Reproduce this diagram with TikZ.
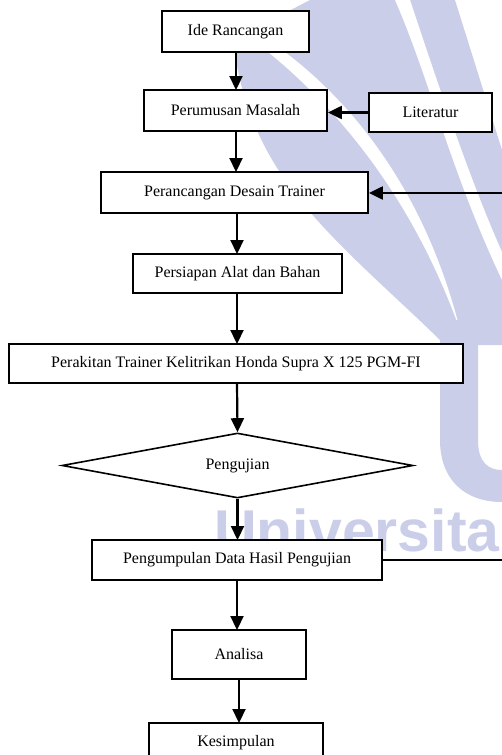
\documentclass[tikz,border=0pt]{standalone}
\usepackage{fontspec}
\setmainfont{Liberation Serif}
\newfontfamily\wmfont{Liberation Sans}
\usetikzlibrary{arrows.meta,shapes.geometric}
\definecolor{wm}{RGB}{203,206,233}
\begin{document}
\begin{tikzpicture}[x=1pt,y=-1pt,
  box/.style={draw=black,line width=1.8pt,fill=white,inner sep=0pt,font=\fontsize{16}{19}\selectfont},
  decision/.style={draw=black,line width=1.6pt,fill=white,diamond,aspect=5.4,inner sep=0pt,font=\fontsize{16}{19}\selectfont},
  arr/.style={line width=2.2pt,-{Triangle[width=13pt,length=14pt]}},
  plain/.style={line width=1.6pt},
  wmtext/.style={text=wm,inner sep=0pt,font=\wmfont\bfseries\fontsize{59}{60}\selectfont}]
\useasboundingbox (0,0) rectangle (502,755);
\begin{scope}
\clip (0,0) rectangle (502,755);
% watermark (background logo)
\fill[wm] (233,40) -- (310,0) -- (455,0) -- (502,150) -- (502,345) -- (445,345) .. controls (400,300) and (340,250) .. (300,200) .. controls (260,150) and (240,100) .. (233,40) -- cycle;
\fill[white] (262,36) .. controls (330,80) and (420,170) .. (460,330) .. controls (410,190) and (330,100) .. (258,44) -- cycle;
\fill[white] (395,0) .. controls (430,80) and (450,170) .. (502,280) -- (502,252) .. controls (470,180) and (440,90) .. (410,0) -- cycle;
\fill[wm] (440,320) -- (478,320) -- (478,440) .. controls (478,462) and (488,470) .. (502,470) -- (502,502) .. controls (465,502) and (440,480) .. (440,440) -- cycle;
\node[wmtext,anchor=base west] (wmt) at (214,551) {Universita};
% flowchart
\node[box,minimum width=147pt,minimum height=41pt] (ide) at (235.5,31.5) {Ide Rancangan};
\node[box,minimum width=183pt,minimum height=41pt] (rum) at (235.5,110.5) {Perumusan Masalah};
\node[box,minimum width=123pt,minimum height=39pt] (lit) at (430.5,112.5) {Literatur};
\node[box,minimum width=267pt,minimum height=41pt] (ran) at (234.5,192.5) {Perancangan Desain Trainer};
\node[box,minimum width=209pt,minimum height=39pt] (sia) at (237.5,273.5) {Persiapan Alat dan Bahan};
\node[box,minimum width=454pt,minimum height=39pt] (rak) at (236,363.5) {Perakitan Trainer Kelitrikan Honda Supra X 125 PGM-FI};
\node[decision,minimum width=351pt,minimum height=65pt] (uji) at (237.5,465.5) {Pengujian};
\node[box,minimum width=290pt,minimum height=40pt] (kum) at (237,560) {Pengumpulan Data Hasil Pengujian};
\node[box,minimum width=134pt,minimum height=49pt] (ana) at (239,654.5) {Analisa};
\node[box,minimum width=174pt,minimum height=40pt] (kes) at (236,743) {Kesimpulan};
\coordinate (e1) at (503,193);
\coordinate (e2) at (503,560);
\draw[arr] (236,52) -- (236,90);
\draw[arr] (lit.west) -- (rum.east |- lit.west);
\draw[arr] (236,131) -- (236,172);
\draw[arr] (e1) -- (ran.east |- e1);
\draw[arr] (237,213) -- (237,254);
\draw[arr] (237,293) -- (237,344);
\draw[arr] (237,383) -- (uji.north);
\draw[arr] (uji.south) -- (237.5,540);
\draw[plain] (kum.east) -- (e2);
\draw[arr] (237,580) -- (237,630);
\draw[arr] (239,679) -- (239,723);
\end{scope}
\end{tikzpicture}
\end{document}
